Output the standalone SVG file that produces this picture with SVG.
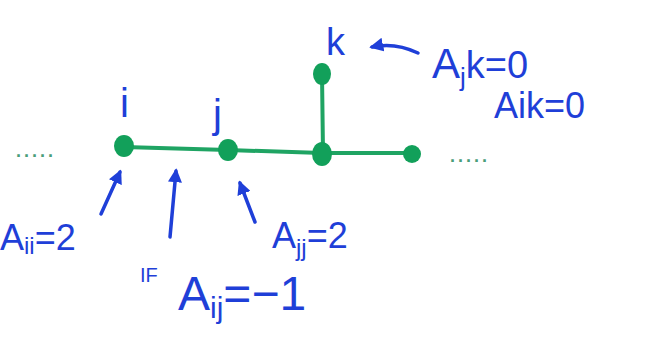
<svg xmlns="http://www.w3.org/2000/svg" width="652" height="338" viewBox="0 0 652 338">
<defs>
<style>
.t{font-family:"Liberation Sans","DejaVu Sans",sans-serif;fill:#1f3fd8;}
.e{stroke:#1fa463;stroke-width:4;fill:none;stroke-linecap:round;}
.n{fill:#12a05a;}
.a{stroke:#1f3fd8;stroke-width:3.5;fill:none;stroke-linecap:round;}
.d{fill:#4a9e7a;font-family:"Liberation Sans",sans-serif;font-size:18px;font-weight:bold;}
</style>
<marker id="ah" viewBox="0 0 10 10" refX="8" refY="5" markerWidth="4" markerHeight="4" orient="auto"><path d="M0,0 L10,5 L0,10 Z" fill="#1f3fd8"/></marker>
</defs>
<rect width="652" height="338" fill="#ffffff"/>
<g id="edges">
<path class="e" d="M124,147 L228,150 L322,153 L412,153"/>
<path class="e" d="M322,74 L323,153"/>
</g>
<g id="node-i"><ellipse class="n" cx="124" cy="146" rx="10" ry="11"/><text class="t" x="120" y="117" font-size="40">i</text></g>
<g id="node-j"><ellipse class="n" cx="228" cy="150" rx="10" ry="11"/><text class="t" x="213" y="128" font-size="40">j</text></g>
<g id="node-m"><ellipse class="n" cx="322" cy="154" rx="10" ry="12"/></g>
<g id="node-k"><ellipse class="n" cx="322" cy="74" rx="9" ry="11"/><text class="t" x="326" y="55" font-size="38">k</text></g>
<g id="node-r"><ellipse class="n" cx="412" cy="154" rx="9" ry="9"/></g>
<text class="d" x="16" y="157" letter-spacing="3">.....</text>
<text class="d" x="450" y="162" letter-spacing="3">.....</text>
<g id="arrows">
<path class="a" d="M101,214 L120,172" marker-end="url(#ah)"/>
<path class="a" d="M170,237 L176,171" marker-end="url(#ah)"/>
<path class="a" d="M255,222 L240,183" marker-end="url(#ah)"/>
<path class="a" d="M418,53 Q395,42 372,47" marker-end="url(#ah)"/>
</g>
<g id="labels">
<text class="t" x="432" y="78" font-size="42">A<tspan font-size="26" dy="8">j</tspan><tspan font-size="38" dy="-8">k=0</tspan></text>
<text class="t" x="494" y="118" font-size="36">Aik=0</text>
<text class="t" x="0" y="250" font-size="36">A<tspan font-size="24" dy="4">ii</tspan><tspan dy="-4">=2</tspan></text>
<text class="t" x="272" y="248" font-size="36">A<tspan font-size="24" dy="8">jj</tspan><tspan dy="-8">=2</tspan></text>
<text class="t" x="140" y="282" font-size="20">IF</text>
<text class="t" x="178" y="310" font-size="48">A<tspan font-size="30" dy="8">ij</tspan><tspan dy="-8">=−1</tspan></text>
</g>
</svg>
